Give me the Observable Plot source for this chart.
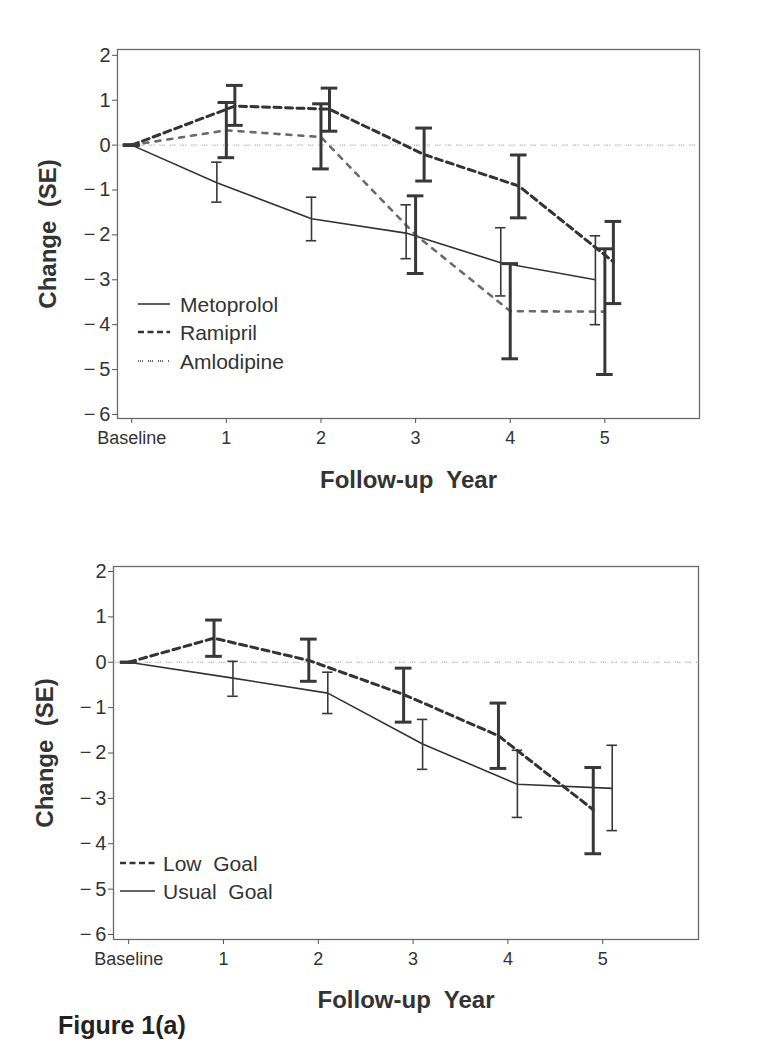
<!DOCTYPE html>
<html><head><meta charset="utf-8">
<script src="https://cdn.jsdelivr.net/npm/d3@7"></script>
<script src="https://cdn.jsdelivr.net/npm/@observablehq/plot@0.6"></script>
<style>
body{margin:0;background:#fff;font-family:"Liberation Sans",Arial,sans-serif;}
#wrap{position:relative;width:757px;height:1050px;overflow:hidden;}
.chart{position:relative;width:757px;}
.chart svg{display:block;}
.legend{position:absolute;left:0;top:0;pointer-events:none;}
#caption{position:absolute;left:58px;top:1011px;font-weight:bold;font-size:25px;color:#222;}
</style></head><body>
<div id="wrap"><div id="c1" class="chart"></div><div id="c2" class="chart"></div><div id="caption">Figure 1(a)</div></div>
<script>
// ---- shared axis data ----
const years = [0, 1, 2, 3, 4, 5];
const xTickLabels = ["Baseline", "1", "2", "3", "4", "5"];
const yTicks = [-6, -5, -4, -3, -2, -1, 0, 1, 2];
const xTitle = "Follow-up\u00a0 Year";
const yTitle = "Change\u00a0 (SE)";

// ---- top panel: drugs ----
const drugNames = ["Metoprolol", "Ramipril", "Amlodipine"];
const metoprololMean = [0, -0.84, -1.64, -1.96, -2.62, -3.00];
const metoprololLow  = [0, -1.27, -2.13, -2.53, -3.36, -4.00];
const metoprololHigh = [0, -0.38, -1.16, -1.33, -1.84, -2.02];
const ramiprilMean   = [0, 0.87, 0.80, -0.21, -0.91, -2.60];
const ramiprilLow    = [0, 0.44, 0.31, -0.80, -1.62, -3.53];
const ramiprilHigh   = [0, 1.33, 1.27, 0.38, -0.22, -1.70];
const amlodipineMean = [0, 0.33, 0.18, -2.00, -3.70, -3.71];
const amlodipineLow  = [0, -0.28, -0.53, -2.86, -4.76, -5.11];
const amlodipineHigh = [0, 0.95, 0.92, -1.13, -2.64, -2.31];

// ---- bottom panel: BP goal ----
const goalNames = ["Low\u00a0 Goal", "Usual\u00a0 Goal"];
const lowGoalMean   = [0, 0.53, 0.04, -0.71, -1.62, -3.25];
const lowGoalLow    = [0, 0.13, -0.42, -1.32, -2.34, -4.22];
const lowGoalHigh   = [0, 0.93, 0.51, -0.13, -0.90, -2.32];
const usualGoalMean = [0, -0.35, -0.68, -1.80, -2.69, -2.78];
const usualGoalLow  = [0, -0.75, -1.13, -2.36, -3.42, -3.71];
const usualGoalHigh = [0, 0.02, -0.22, -1.26, -1.94, -1.83];

// ---- styles ----
const FONT = '"Liberation Sans", Arial, Helvetica, sans-serif';
const INK = "#333";
const solid = {dash: null, width: 1.6, bar: 1.6, cap: 0.055, legendWidth: 1.6, legendDash: null, color: "#333"};
const dashed = {dash: "7,4.5", width: 3, bar: 3, cap: 0.088, legendWidth: 2.6, legendDash: "6,3.5", color: "#333"};
const dotted = {dash: "1,1,1,1,1,7", width: 2.6, bar: 3, cap: 0.088, legendWidth: 1.8, legendDash: "1,1,1,1,1,5", color: "#6a6a6a"};

function rowsOf(mean, low, high, off) {
  return years.map((yr, i) => ({x: yr === 0 ? 0 : yr + off, mean: mean[i], lo: low[i], hi: high[i]}));
}

function fmtY(d) { return d < 0 ? "\u2212\u2009" + (-d) : String(d); }

function panel({series, xDomain, yDomain, height, margins}) {
  const marks = [];
  marks.push(Plot.ruleY([0], {stroke: "#9c9c9c", strokeWidth: 1, strokeDasharray: "1.2,1,1.2,1,1.2,5"}));
  for (const s of series) {
    marks.push(Plot.line(s.rows, {x: "x", y: "mean", stroke: s.st.color, strokeWidth: s.st.width, strokeDasharray: s.st.dash}));
  }
  for (const s of series) {
    const c = s.st.cap;
    marks.push(Plot.ruleX(s.rows, {x: "x", y1: "lo", y2: "hi", stroke: "#383838", strokeWidth: s.st.bar}));
    marks.push(Plot.ruleY(s.rows, {y: "lo", x1: d => d.x - c, x2: d => d.x + c, stroke: "#383838", strokeWidth: s.st.bar}));
    marks.push(Plot.ruleY(s.rows, {y: "hi", x1: d => d.x - c, x2: d => d.x + c, stroke: "#383838", strokeWidth: s.st.bar}));
  }
  marks.push(Plot.frame({stroke: "#6a6a6a", strokeWidth: 1.3}));
  marks.push(Plot.axisX({ticks: years, tickFormat: d => xTickLabels[years.indexOf(d)], tickSize: 5, tickPadding: 8, fontSize: 18, label: null, stroke: "#555", fill: INK}));
  marks.push(Plot.axisY({ticks: yTicks, tickFormat: fmtY, tickSize: 5, tickPadding: 2, fontSize: 20, label: null, stroke: "#555", fill: INK}));
  marks.push(Plot.text([xTitle], {text: d => d, frameAnchor: "bottom", lineAnchor: "middle", textAnchor: "middle", dy: margins.xTitleDy, fontSize: 24, fontWeight: "bold", fill: INK}));
  marks.push(Plot.text([yTitle], {text: d => d, frameAnchor: "left", lineAnchor: "middle", textAnchor: "middle", dx: margins.yTitleDx, rotate: -90, fontSize: 24, fontWeight: "bold", fill: INK}));
  return Plot.plot({
    width: 757, height,
    marginTop: margins.top, marginBottom: margins.bottom, marginLeft: margins.left, marginRight: margins.right,
    x: {domain: xDomain}, y: {domain: yDomain},
    style: {fontFamily: FONT, color: INK, background: "#fff", overflow: "visible"},
    marks
  });
}

function legend(container, items, {x0, x1, tx, ys, fontSize}) {
  const svg = d3.select(container).append("svg").attr("class", "legend").attr("width", 757).attr("height", 560);
  items.forEach((it, i) => {
    svg.append("line").attr("x1", x0).attr("x2", x1).attr("y1", ys[i]).attr("y2", ys[i])
      .attr("stroke", it.st.color).attr("stroke-width", it.st.legendWidth).attr("stroke-dasharray", it.st.legendDash);
    svg.append("text").attr("x", tx).attr("y", ys[i]).attr("dy", "0.36em")
      .attr("font-family", FONT).attr("font-size", fontSize).attr("fill", INK).text(it.name);
  });
}

// top
const topSeries = [
  {name: drugNames[0], st: solid, rows: rowsOf(metoprololMean, metoprololLow, metoprololHigh, -0.1)},
  {name: drugNames[1], st: dashed, rows: rowsOf(ramiprilMean, ramiprilLow, ramiprilHigh, 0.09)},
  {name: drugNames[2], st: dotted, rows: rowsOf(amlodipineMean, amlodipineLow, amlodipineHigh, 0)}
];
const c1 = document.getElementById("c1");
c1.append(panel({series: topSeries, xDomain: [-0.15, 6], yDomain: [-6.09, 2.13], height: 500,
  margins: {top: 49, bottom: 82, left: 117, right: 58, xTitleDy: 62, yTitleDx: -69}}));
legend(c1, topSeries, {x0: 138, x1: 170, tx: 180, ys: [304, 332, 361], fontSize: 21});

// bottom
const bottomSeries = [
  {name: goalNames[0], st: dashed, rows: rowsOf(lowGoalMean, lowGoalLow, lowGoalHigh, -0.1)},
  {name: goalNames[1], st: solid, rows: rowsOf(usualGoalMean, usualGoalLow, usualGoalHigh, 0.1)}
];
const c2 = document.getElementById("c2");
c2.append(panel({series: bottomSeries, xDomain: [-0.16, 6.01], yDomain: [-6.11, 2.11], height: 550,
  margins: {top: 66, bottom: 111, left: 113, right: 59, xTitleDy: 61, yTitleDx: -68}}));
legend(c2, bottomSeries, {x0: 120, x1: 155, tx: 163, ys: [363, 391], fontSize: 21});
</script>
</body></html>
